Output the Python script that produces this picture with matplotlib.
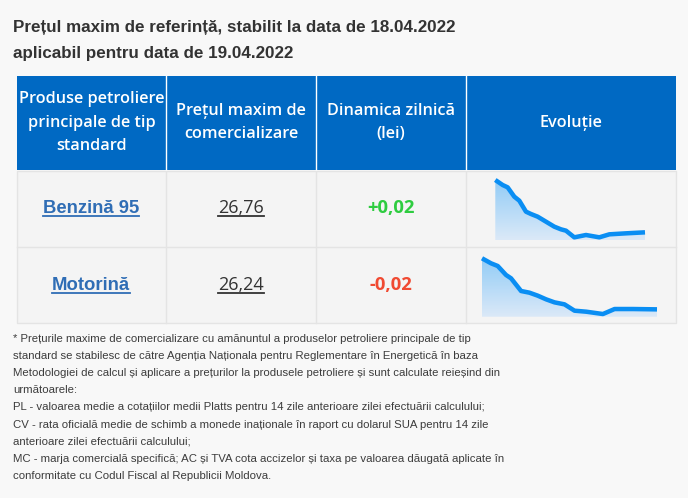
import matplotlib
matplotlib.use('Agg')
import matplotlib.pyplot as plt
from matplotlib.patches import Rectangle, Polygon
from matplotlib import font_manager
import numpy as np

# date
titlu = ["Prețul maxim de referință, stabilit la data de 18.04.2022",
         "aplicabil pentru data de 19.04.2022"]
antete = ["Produse petroliere\nprincipale de tip\nstandard",
          "Prețul maxim de\ncomercializare",
          "Dinamica zilnică\n(lei)",
          "Evoluție"]
produse = ["Benzină 95", "Motorină"]
preturi = ["26,76", "26,24"]
dinamica = ["+0,02", "-0,02"]

# evolutie (unitati relative)
benzina_x = [88, 110, 125, 145, 160, 180, 195, 215, 240, 265, 285, 300, 325, 360, 400, 430, 480, 537]
benzina_y = [180, 165, 158, 130, 118, 85, 78, 70, 55, 40, 32, 28, 8, 15, 8, 17, 20, 23]
motorina_x = [48, 75, 95, 120, 135, 165, 190, 215, 240, 265, 295, 325, 360, 410, 445, 500, 572]
motorina_y = [175, 160, 152, 125, 115, 77, 72, 63, 52, 43, 37, 18, 15, 8, 23, 23, 22]

nota = ["* Prețurile maxime de comercializare cu amănuntul a produselor petroliere principale de tip",
        "standard se stabilesc de către Agenția Naționala pentru Reglementare în Energetică în baza",
        "Metodologiei de calcul și aplicare a prețurilor la produsele petroliere și sunt calculate reieșind din",
        "următoarele:",
        "PL - valoarea medie a cotațiilor medii Platts pentru 14 zile anterioare zilei efectuării calculului;",
        "CV - rata oficială medie de schimb a monede inaționale în raport cu dolarul SUA pentru 14 zile",
        "anterioare zilei efectuării calculului;",
        "MC - marja comercială specifică; AC și TVA cota accizelor și taxa pe valoarea dăugată aplicate în",
        "conformitate cu Codul Fiscal al Republicii Moldova."]

# font ingust daca exista
nume = {f.name for f in font_manager.fontManager.ttflist}
if 'Liberation Sans Narrow' in nume:
    ingust, k = 'Liberation Sans Narrow', 1.0
else:
    ingust, k = 'Liberation Sans', 0.81

W, H = 688, 498
fig = plt.figure(figsize=(W / 100, H / 100), dpi=100, facecolor='#f8f8f8')
ax = fig.add_axes([0, 0, 1, 1])
ax.set_xlim(0, W)
ax.set_ylim(H, 0)
ax.axis('off')

def pt(px):
    return px * 72 / 100

# titlu
for i, linie in enumerate(titlu):
    ax.text(13, 27 + i * 26, linie, fontsize=pt(21 * k), fontweight='bold',
            family=ingust, color='#333333', va='center', ha='left')

# tabel
col_x = [17, 166, 316, 466, 676]
hdr_top, hdr_bot = 76, 170
row_y = [171, 247, 323]

ax.add_patch(Rectangle((col_x[0], hdr_top), col_x[-1] - col_x[0], hdr_bot - hdr_top,
                       facecolor='#0069c3', edgecolor='none'))
for x in col_x[1:-1]:
    ax.plot([x, x], [hdr_top, hdr_bot], color='white', lw=1)
for j, a in enumerate(antete):
    cx = (col_x[j] + col_x[j + 1]) / 2
    linii = a.split('\n')
    y0 = 122.5 - (len(linii) - 1) * 23.5 / 2
    for m, l in enumerate(linii):
        ax.text(cx, y0 + m * 23.5, l, fontsize=pt(16.2), fontweight='semibold', family='Open Sans',
                color='white', ha='center', va='center')

ax.add_patch(Rectangle((col_x[0], row_y[0]), col_x[-1] - col_x[0], row_y[-1] - row_y[0],
                       facecolor='#f4f4f4', edgecolor='#e4e4e4', lw=1))
for x in col_x[1:-1]:
    ax.plot([x, x], [row_y[0], row_y[-1]], color='#e4e4e4', lw=1)
ax.plot([col_x[0], col_x[-1]], [row_y[1], row_y[1]], color='#e4e4e4', lw=1)

subliniate = []
culori_din = ['#2ecc40', '#f04a32']
centre = [208, 285]
for i in range(2):
    cy = centre[i]
    t1 = ax.text(91, cy, produse[i], fontsize=pt(18.5), fontweight='bold', family='Liberation Sans',
                 color='#2f6db5', ha='center', va='center')
    t2 = ax.text(241, cy, preturi[i], fontsize=pt(18), family='Open Sans',
                 color='#333333', ha='center', va='center')
    ax.text(391, cy, dinamica[i], fontsize=pt(18.5), fontweight='bold', family='Open Sans',
            color=culori_din[i], ha='center', va='center')
    subliniate.append((t1, '#2f6db5'))
    subliniate.append((t2, '#333333'))

# nota
for i, l in enumerate(nota):
    ax.text(13, 339 + i * 17.1, l, fontsize=pt(14.0 * k), family=ingust, color='#3c3c3c',
            ha='left', va='center')

# subliniere
fig.canvas.draw()
inv = ax.transData.inverted()
for t, c in subliniate:
    bb = t.get_window_extent()
    (x0, y0), (x1, y1) = inv.transform([[bb.x0, bb.y0], [bb.x1, bb.y1]])
    ax.plot([x0, x1], [y0 - 1, y0 - 1], color=c, lw=1.3)

# grafice evolutie
def sparkline(xs, ys, box):
    bx0, by0, bx1, by1 = box
    sa = fig.add_axes([bx0 / W, 1 - by1 / H, (bx1 - bx0) / W, (by1 - by0) / H])
    sa.set_xlim(min(xs), max(xs))
    sa.set_ylim(0, max(ys))
    sa.axis('off')
    poly = Polygon([(xs[0], 0)] + list(zip(xs, ys)) + [(xs[-1], 0)],
                   closed=True, facecolor='none', edgecolor='none')
    sa.add_patch(poly)
    grad = np.linspace(1, 0, 100).reshape(-1, 1)
    cmap = matplotlib.colors.LinearSegmentedColormap.from_list('g', ['#dbe9f8', '#92ccf6'])
    im = sa.imshow(grad, extent=[min(xs), max(xs), 0, max(ys)], aspect='auto',
                   cmap=cmap, origin='upper', zorder=1)
    im.set_clip_path(poly)
    sa.plot(xs, ys, color='#0a8ef3', lw=pt(4.5), solid_capstyle='butt',
            solid_joinstyle='round', clip_on=False, zorder=2)

sparkline(benzina_x, benzina_y, (495.3, 180, 645, 240))
sparkline(motorina_x, motorina_y, (482, 258.3, 657, 316.7))

fig.savefig('out.png', dpi=100, facecolor=fig.get_facecolor())
